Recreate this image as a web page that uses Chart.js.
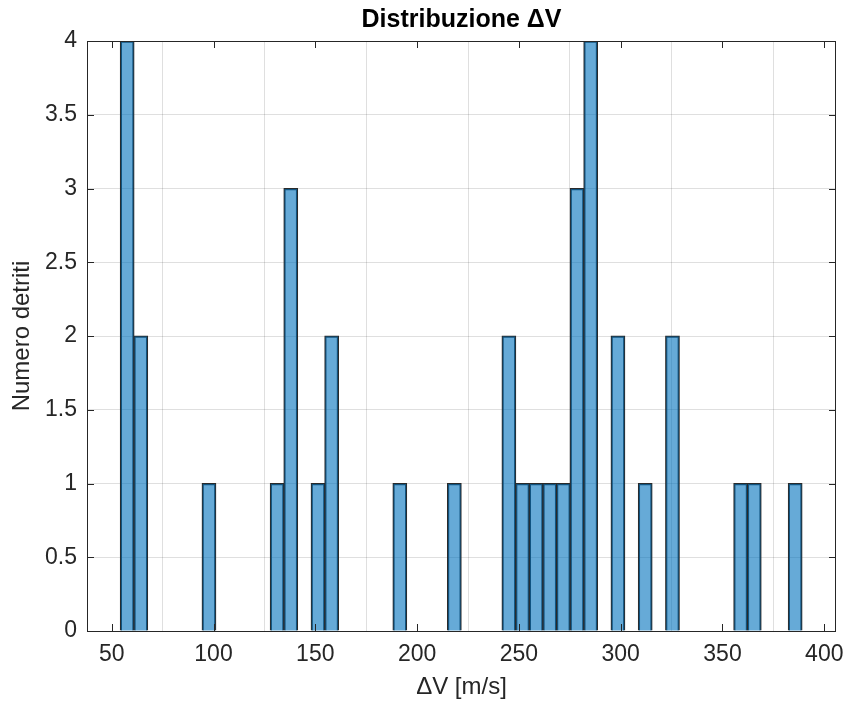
<!DOCTYPE html>
<html>
<head>
<meta charset="utf-8">
<script src="https://cdn.jsdelivr.net/npm/chart.js@4.4.1/dist/chart.umd.min.js"></script>
<style>
  html, body { margin: 0; padding: 0; background: #ffffff; }
  canvas { display: block; }
</style>
</head>
<body>
<canvas id="chart" width="848" height="706"></canvas>
<script>
// Histogram of ΔV over the debris set: 50 equal-width bins
const binStart = 54.24;   // left edge of the first bin [m/s]
const binWidth = 6.696;   // width of each bin [m/s]
const counts = [
  4, 2, 0, 0, 0, 0, 1, 0, 0, 0,
  0, 1, 3, 0, 1, 2, 0, 0, 0, 0,
  1, 0, 0, 0, 1, 0, 0, 0, 2, 1,
  1, 1, 1, 3, 4, 0, 2, 0, 1, 0,
  2, 0, 0, 0, 0, 1, 1, 0, 0, 1
];
const xTicks = [50, 100, 150, 200, 250, 300, 350, 400];
const yTicks = [0, 0.5, 1, 1.5, 2, 2.5, 3, 3.5, 4];
const xRange = [37.86, 405.75];
const titleText = 'Distribuzione ΔV';
const xLabel = 'ΔV [m/s]';
const yLabel = 'Numero detriti';

const FONT = '"Liberation Sans", Arial, Helvetica, sans-serif';
const AXIS = '#262626';

// Box around the axes with inward tick marks on all four sides
const boxTicks = {
  id: 'boxTicks',
  afterDatasetsDraw(chart) {
    const { ctx, chartArea: a, scales: { x, y } } = chart;
    const L = 7;
    ctx.save();
    ctx.strokeStyle = AXIS;
    ctx.lineWidth = 1;
    ctx.beginPath();
    for (const v of xTicks) {
      const px = Math.round(x.getPixelForValue(v)) + 0.5;
      ctx.moveTo(px, a.bottom); ctx.lineTo(px, a.bottom - L);
      ctx.moveTo(px, a.top); ctx.lineTo(px, a.top + L);
    }
    for (const v of yTicks) {
      const py = Math.round(y.getPixelForValue(v)) + 0.5;
      ctx.moveTo(a.left, py); ctx.lineTo(a.left + L, py);
      ctx.moveTo(a.right, py); ctx.lineTo(a.right - L, py);
    }
    ctx.stroke();
    ctx.strokeRect(Math.round(a.left) + 0.5, Math.round(a.top) + 0.5,
                   Math.round(a.right - a.left) - 1, Math.round(a.bottom - a.top));
    ctx.restore();
  }
};

new Chart(document.getElementById('chart'), {
  type: 'bar',
  data: {
    datasets: [{
      data: counts.map((c, i) => ({ x: binStart + (i + 0.5) * binWidth, y: c > 0 ? c : null })),
      backgroundColor: 'rgba(0,114,189,0.6)',
      borderColor: '#2a2a2a',
      borderWidth: 1.1,
      borderSkipped: 'start',
      inflateAmount: 0.55,
      barPercentage: 1,
      categoryPercentage: 1,
      grouped: false
    }]
  },
  options: {
    responsive: false,
    animation: false,
    layout: { padding: { left: 0, right: 12, top: 0, bottom: 0 } },
    plugins: {
      legend: { display: false },
      tooltip: { enabled: false },
      title: {
        display: true,
        text: titleText,
        fullSize: false,
        color: '#000000',
        font: { family: FONT, size: 25, weight: 'bold' },
        padding: { top: 5, bottom: 6 }
      }
    },
    scales: {
      x: {
        type: 'linear',
        min: xRange[0],
        max: xRange[1],
        offset: false,
        afterBuildTicks: s => { s.ticks = xTicks.map(v => ({ value: v })); },
        afterFit: s => { s.height = 75; s.paddingLeft = 0; s.paddingRight = 0; },
        grid: { color: 'rgba(38,38,38,0.15)', lineWidth: 1, drawTicks: false },
        border: { display: false },
        ticks: { color: AXIS, font: { family: FONT, size: 23 }, padding: 10, maxRotation: 0, autoSkip: false,
                 callback: v => String(v) },
        title: { display: true, text: xLabel, color: AXIS, font: { family: FONT, size: 24 }, padding: { top: 0, bottom: 4 } }
      },
      y: {
        min: 0,
        max: 4,
        afterBuildTicks: s => { s.ticks = yTicks.map(v => ({ value: v })); },
        afterFit: s => { s.width = 87; s.paddingTop = 0; s.paddingBottom = 0; },
        grid: { color: 'rgba(38,38,38,0.15)', lineWidth: 1, drawTicks: false },
        border: { display: false },
        ticks: { color: AXIS, font: { family: FONT, size: 23 }, padding: 10, autoSkip: false,
                 callback: v => String(v) },
        title: { display: true, text: yLabel, color: AXIS, font: { family: FONT, size: 24 }, padding: { top: 8, bottom: 0 } }
      }
    }
  },
  plugins: [boxTicks]
});
</script>
</body>
</html>
